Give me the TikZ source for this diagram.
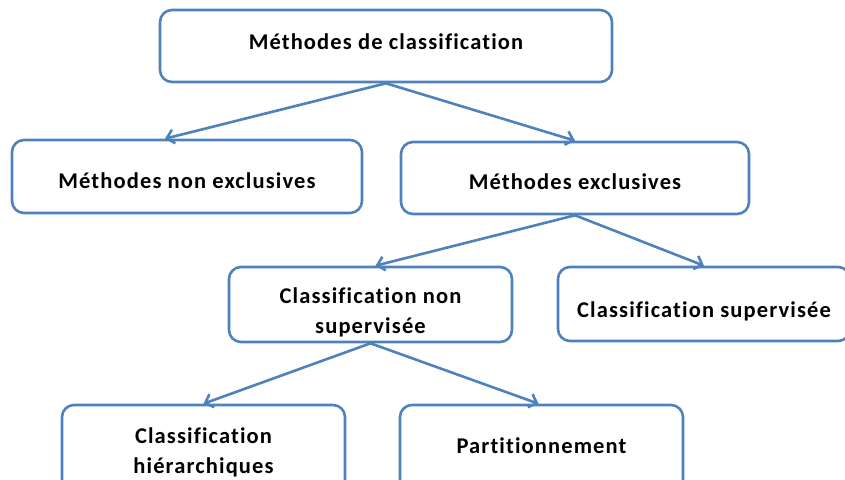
\documentclass[tikz,border=0pt]{standalone}
\usepackage{fontspec}
\setmainfont{Carlito}[Ligatures=NoCommon,LetterSpace=5]
\usetikzlibrary{arrows.meta}
\definecolor{boxblue}{RGB}{79,129,189}

\begin{document}
\begin{tikzpicture}[
            x=1pt,y=-1pt,
            every node/.append style={black,font=\bfseries\fontsize{22.5}{30}\selectfont},
            box/.style={draw=boxblue,line width=2.6pt,rounded corners=12pt,
                fill=white,align=center,inner sep=0pt,text depth=0pt},
            arr/.style={boxblue,line width=2.6pt,
                -{Straight Barb[length=7pt,width=14pt]}}
        ]
            \useasboundingbox (0,0) rectangle (845,479);
            \clip (0,0) rectangle (845,479);
            % boxes
            \node [box,minimum width=452pt,minimum height=72pt,text height=6pt] (meth) at (386,46) {Méthodes de classification};
            \node [box,minimum width=350pt,minimum height=73pt,text height=23pt] (nonexcl) at (187,176.5) {Méthodes non exclusives};
            \node [box,minimum width=348pt,minimum height=72pt,text height=22pt] (excl) at (575,178) {Méthodes exclusives};
            \node [box,minimum width=283pt,minimum height=75pt,text height=57pt] (nonsup) at (370.5,304.5) {Classification non\\supervisée};
            \node [box,minimum width=292pt,minimum height=74pt,text height=26pt] (sup) at (704,304) {Classification supervisée};
            \node [box,minimum width=283pt,minimum height=92pt,text height=44pt] (hier) at (203.5,451) {Classification\\hiérarchiques};
            \node [box,minimum width=283pt,minimum height=92pt,text height=4pt] (part) at (541.5,451) {Partitionnement};
            % arrows
            \draw [arr] (meth.south) -- ([xshift=-22pt]nonexcl.north);
            \draw [arr] (meth.south) -- (excl.north);
            \draw [arr] (excl.south) -- ([xshift=5pt]nonsup.north);
            \draw [arr] (excl.south) -- (sup.north);
            \draw [arr] (nonsup.south) -- (hier.north);
            \draw [arr] (nonsup.south) -- ([xshift=-3pt]part.north);
        \end{tikzpicture}
\end{document}
